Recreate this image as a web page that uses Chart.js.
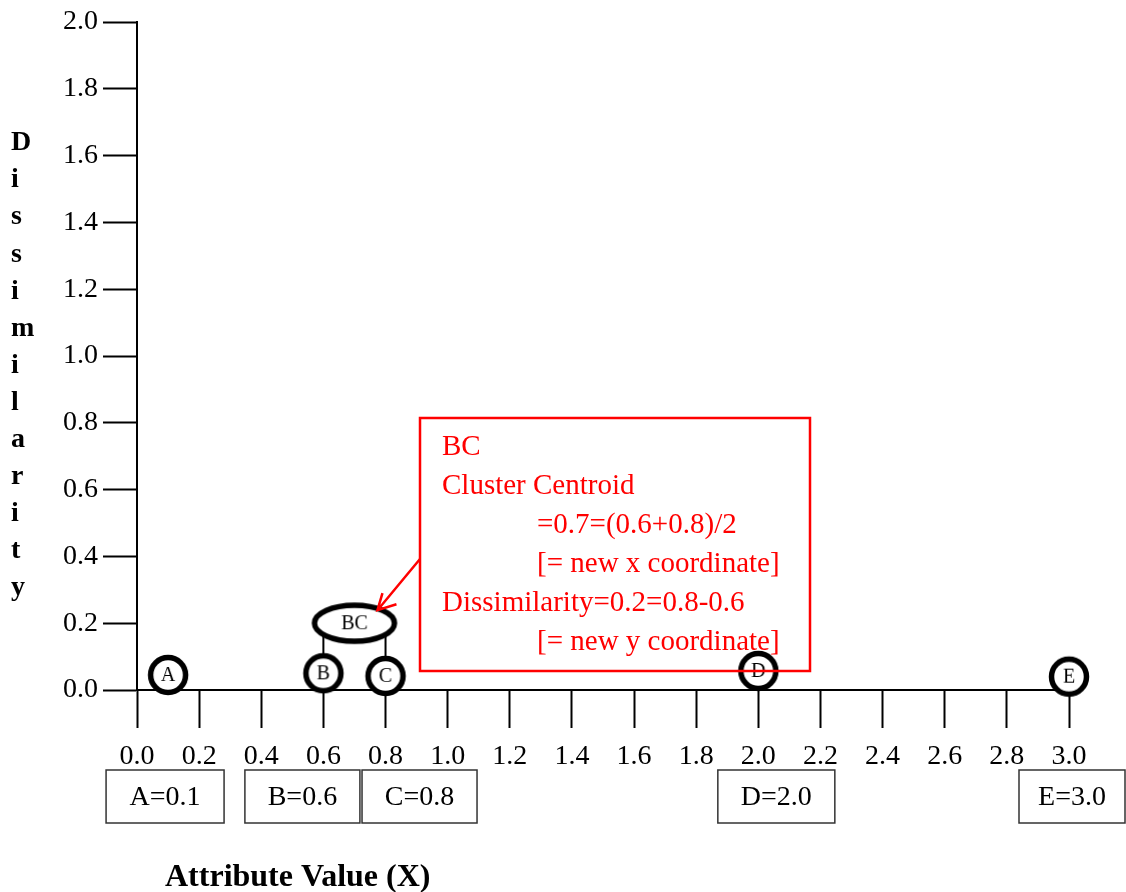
<!DOCTYPE html>
<html>
<head>
<meta charset="utf-8">
<script src="https://cdn.jsdelivr.net/npm/chart.js@4.4.0/dist/chart.umd.min.js"></script>
<style>
  html, body { margin: 0; padding: 0; background: #fff; }
</style>
</head>
<body>
<canvas id="chart" width="1126" height="892"></canvas>
<script>
// data points on the attribute axis
const pointNames = ['A', 'B', 'C', 'D', 'E'];
const pointX = [0.1, 0.6, 0.8, 2.0, 3.0];
const pointY = [0.045, 0.05, 0.042, 0.057, 0.04];
const valueLabels = ['A=0.1', 'B=0.6', 'C=0.8', 'D=2.0', 'E=3.0'];

// merged cluster
const clusterNames = ['BC'];
const clusterX = [0.7];
const clusterY = [0.2];
const clusterMembers = [[1, 2]];

const xTicks = ['0.0', '0.2', '0.4', '0.6', '0.8', '1.0', '1.2', '1.4', '1.6', '1.8', '2.0', '2.2', '2.4', '2.6', '2.8', '3.0'];
const yTicks = ['0.0', '0.2', '0.4', '0.6', '0.8', '1.0', '1.2', '1.4', '1.6', '1.8', '2.0'];

const noteLines = [
  'BC',
  'Cluster Centroid',
  '=0.7=(0.6+0.8)/2',
  '[= new x coordinate]',
  'Dissimilarity=0.2=0.8-0.6',
  '[= new y coordinate]'
];
const noteIndent = [0, 0, 1, 1, 0, 1];

const SERIF = '"Liberation Serif", "Times New Roman", serif';

// marker images used as point styles
function circleMarker(letter) {
  const c = document.createElement('canvas');
  c.width = 48; c.height = 48;
  const g = c.getContext('2d');
  g.beginPath();
  g.arc(24, 24, 17.5, 0, Math.PI * 2);
  g.fillStyle = '#fff';
  g.fill();
  g.lineWidth = 5.5;
  g.strokeStyle = '#000';
  g.stroke();
  g.fillStyle = '#000';
  g.font = '20px ' + SERIF;
  g.textAlign = 'center';
  g.textBaseline = 'middle';
  g.fillText(letter, 24, 25);
  return c;
}

function ellipseMarker(label) {
  const c = document.createElement('canvas');
  c.width = 92; c.height = 48;
  const g = c.getContext('2d');
  g.beginPath();
  g.ellipse(46, 24, 40, 18, 0, 0, Math.PI * 2);
  g.fillStyle = '#fff';
  g.fill();
  g.lineWidth = 5.5;
  g.strokeStyle = '#000';
  g.stroke();
  g.fillStyle = '#000';
  g.font = '20px ' + SERIF;
  g.textAlign = 'center';
  g.textBaseline = 'middle';
  g.fillText(label, 46, 25);
  return c;
}

const extras = {
  id: 'extras',
  beforeDatasetsDraw(chart) {
    // stems joining cluster members to the centroid ellipse
    const { ctx, scales: { x, y } } = chart;
    ctx.save();
    ctx.strokeStyle = '#000';
    ctx.lineWidth = 2;
    clusterMembers.forEach((members, ci) => {
      const cy = y.getPixelForValue(clusterY[ci]);
      members.forEach(i => {
        const px = x.getPixelForValue(pointX[i]);
        ctx.beginPath();
        ctx.moveTo(px, y.getPixelForValue(pointY[i]));
        ctx.lineTo(px, cy);
        ctx.stroke();
      });
    });
    ctx.restore();
  },
  afterDraw(chart) {
    const { ctx, scales: { x, y } } = chart;
    ctx.save();

    // value boxes under the axis
    const boxLayout = [{ dx: -3, w: 118 }, { dx: -21, w: 115 }, { dx: 34, w: 115 }, { dx: 18, w: 117 }, { dx: 3, w: 106 }];
    ctx.font = '28px ' + SERIF;
    ctx.textAlign = 'center';
    ctx.textBaseline = 'middle';
    valueLabels.forEach((t, i) => {
      const cx = x.getPixelForValue(pointX[i]) + boxLayout[i].dx;
      const w = boxLayout[i].w;
      ctx.strokeStyle = '#333';
      ctx.lineWidth = 1.5;
      ctx.strokeRect(cx - w / 2, 770, w, 53);
      ctx.fillStyle = '#000';
      ctx.fillText(t, cx, 798);
    });

    // annotation box
    const bx = 420, by = 418, bw = 390, bh = 253;
    ctx.strokeStyle = '#ff0000';
    ctx.lineWidth = 2.5;
    ctx.strokeRect(bx, by, bw, bh);
    ctx.fillStyle = '#ff0000';
    ctx.font = '29px ' + SERIF;
    ctx.textAlign = 'left';
    noteLines.forEach((t, i) => {
      ctx.fillText(t, noteIndent[i] ? 537 : 442, 447 + i * 39);
    });

    // arrow to the centroid
    const tipX = x.getPixelForValue(clusterX[0]) + 23;
    const tipY = y.getPixelForValue(clusterY[0]) - 13;
    ctx.beginPath();
    ctx.moveTo(bx, 559);
    ctx.lineTo(tipX, tipY);
    ctx.moveTo(tipX + 5, tipY - 17);
    ctx.lineTo(tipX, tipY);
    ctx.lineTo(tipX + 19, tipY - 6);
    ctx.stroke();

    // axis titles
    ctx.fillStyle = '#000';
    ctx.font = 'bold 28px ' + SERIF;
    ctx.textAlign = 'left';
    'Dissimilarity'.split('').forEach((ch, i) => {
      ctx.fillText(ch, 11, 143 + i * 37.1);
    });
    ctx.font = 'bold 32px ' + SERIF;
    ctx.fillText('Attribute Value (X)', 165, 878);
    ctx.restore();
  }
};

const tickFont = { family: SERIF, size: 28 };

new Chart(document.getElementById('chart'), {
  type: 'scatter',
  data: {
    datasets: [{
      label: 'points',
      data: pointX.map((v, i) => ({ x: v, y: pointY[i] })),
      pointStyle: pointNames.map(circleMarker),
      pointRadius: 18
    }, {
      label: 'clusters',
      data: clusterX.map((v, i) => ({ x: v, y: clusterY[i] })),
      pointStyle: clusterNames.map(ellipseMarker),
      pointRadius: 20
    }]
  },
  options: {
    responsive: false,
    animation: false,
    events: [],
    clip: false,
    layout: { padding: { top: 22, right: 57, left: 0, bottom: 0 } },
    plugins: { legend: { display: false }, tooltip: { enabled: false } },
    scales: {
      x: {
        type: 'linear',
        min: 0, max: 3.0,
        afterFit(scale) { scale.height = 202; },
        afterBuildTicks(scale) { scale.ticks = xTicks.map(t => ({ value: parseFloat(t) })); },
        ticks: {
          autoSkip: false, maxRotation: 0, minRotation: 0,
          color: '#000', font: tickFont, padding: 12,
          callback: (v, i) => xTicks[i]
        },
        grid: { drawOnChartArea: false, tickLength: 38, tickWidth: 2, tickColor: '#000' },
        border: { color: '#000', width: 2 }
      },
      y: {
        type: 'linear',
        min: 0, max: 2.0,
        afterFit(scale) { scale.width = 137; },
        afterBuildTicks(scale) { scale.ticks = yTicks.map(t => ({ value: parseFloat(t) })); },
        ticks: {
          color: '#000', font: tickFont, padding: 5,
          callback: (v, i) => yTicks[i]
        },
        grid: { drawOnChartArea: false, tickLength: 34, tickWidth: 2, tickColor: '#000' },
        border: { color: '#000', width: 2 }
      }
    }
  },
  plugins: [extras]
});
</script>
</body>
</html>
